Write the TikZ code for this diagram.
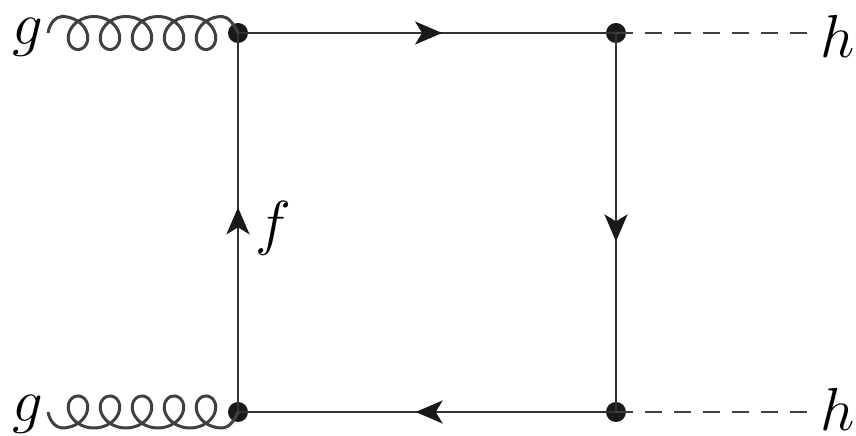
\documentclass[tikz,border=0pt]{standalone}
\usetikzlibrary{arrows.meta,decorations.markings}
\tikzset{
	vertexdot/.style={circle,fill=black!90,inner sep=0pt,minimum size=0.2cm},
	fermion/.style={line width=0.8pt,color=black!80,postaction={decorate},decoration={markings,
		mark=at position #1 with {\arrow[black!90]{Stealth[length=0.27cm,width=0.23cm,inset=0.07cm]}}}},
	scalar/.style={line width=0.6pt,color=black!75,dash pattern=on 0.17cm off 0.12cm},
	gluon/.style={line width=0.85pt,color=black!75,samples=200,smooth},
	partlabel/.style={inner sep=0pt,font=\fontsize{16.5}{20}\selectfont},
}
\begin{document}
\begin{tikzpicture}
	\useasboundingbox (0,0) rectangle (8.56,4.36);
	\coordinate (topin) at (0.48,4.03);
	\coordinate (botin) at (0.48,0.24);
	\node[vertexdot] (v1) at (2.38,4.03) {};
	\node[vertexdot] (v2) at (6.16,4.03) {};
	\node[vertexdot] (v3) at (6.16,0.24) {};
	\node[vertexdot] (v4) at (2.38,0.24) {};
	\coordinate (topout) at (8.10,4.03);
	\coordinate (botout) at (8.10,0.24);
	% quark box
	\draw[fermion=0.54] (v1.center) -- (v2.center);
	\draw[fermion=0.55] (v2.center) -- (v3.center);
	\draw[fermion=0.53] (v3.center) -- (v4.center);
	\draw[fermion=0.54] (v4.center) -- (v1.center);
	\draw[scalar] (v2.center) -- (topout);
	\draw[scalar] (v3.center) -- (botout);
	% gluons
	\draw[gluon] (topin) .. controls (0.50,4.14) and (0.56,4.19) .. (0.62,4.195)
		-- plot[domain=0:1800] ({0.62+0.32*\x/360+0.17*sin(\x)},{4.03+0.165*cos(\x)})
		.. controls (2.28,4.195) and (2.34,4.12) .. (v1.center);
	\draw[gluon] (botin) .. controls (0.50,0.14) and (0.56,0.085) .. (0.62,0.08)
		-- plot[domain=0:1800] ({0.62+0.32*\x/360+0.17*sin(\x)},{0.24-0.16*cos(\x)})
		.. controls (2.28,0.08) and (2.34,0.14) .. (v4.center);
	\node[partlabel] (gtop) at (0.28,3.99) {$g$};
	\node[partlabel] (gbot) at (0.28,0.22) {$g$};
	\node[partlabel] (hout1) at (8.38,4.00) {$h$};
	\node[partlabel] (hout2) at (8.38,0.27) {$h$};
	\node[partlabel] (flabel) at (2.73,2.08) {$f$};
\end{tikzpicture}
\end{document}
